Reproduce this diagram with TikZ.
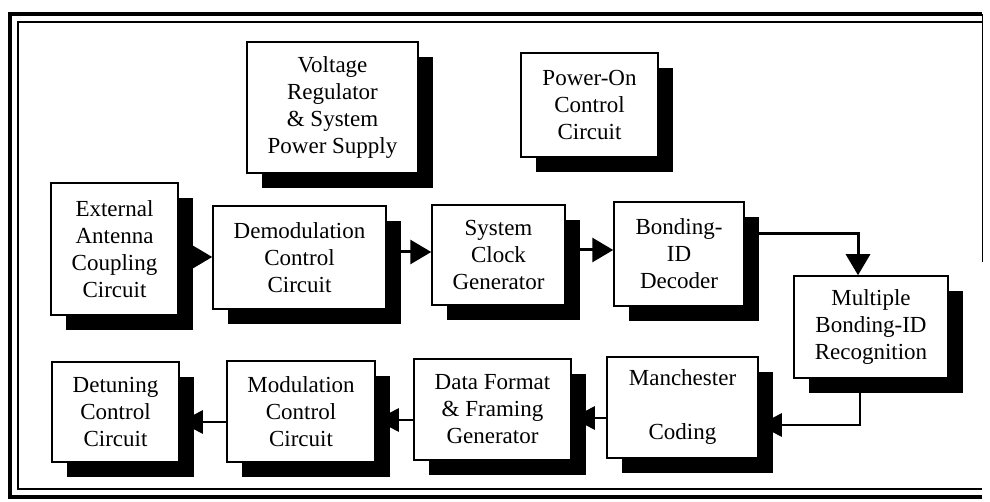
\documentclass[tikz,border=0pt]{standalone}
\usepackage{fontspec}
\setmainfont{Liberation Serif}
\usetikzlibrary{arrows.meta,shadows,backgrounds}
\tikzset{
  blk/.style={draw, line width=1.5pt, fill=white, align=center, inner sep=0pt,
    font=\fontsize{23}{27}\selectfont,
    drop shadow={shadow xshift=15pt, shadow yshift=-15pt, fill=black, opacity=1}},
  toparr/.style={line width=3pt, -{Triangle[length=21pt,width=24pt]}},
  botarr/.style={line width=2.5pt, -{Triangle[length=23pt,width=23pt]}},
  frameouter/.style={line width=4pt},
  frameinner/.style={line width=1.3pt}
}
\begin{document}
\begin{tikzpicture}[x=1pt,y=-1pt]
\useasboundingbox (0,0) rectangle (990,502);
% boxes
\node[blk, minimum width=171pt, minimum height=131pt] (volt) at (332.5,107.5) {Voltage\\Regulator\\\& System\\Power Supply};
\node[blk, minimum width=137pt, minimum height=104pt] (pwr) at (589.5,105) {Power-On\\Control\\Circuit};
\node[blk, minimum width=127pt, minimum height=132pt] (ext) at (114.5,249) {External\\Antenna\\Coupling\\Circuit};
\node[blk, minimum width=173pt, minimum height=103pt] (demod) at (299.5,257.5) {Demodulation\\Control\\Circuit};
\node[blk, minimum width=133pt, minimum height=100pt] (clock) at (498.5,255) {System\\Clock\\Generator};
\node[blk, minimum width=130pt, minimum height=104pt] (bond) at (679,254) {Bonding-\\ID\\Decoder};
\node[blk, minimum width=154pt, minimum height=102pt] (mult) at (871,327) {Multiple\\Bonding-ID\\Recognition};
\node[blk, minimum width=151pt, minimum height=101pt] (manch) at (682.5,407.5) {Manchester\\[27pt]Coding};
\node[blk, minimum width=157pt, minimum height=101pt] (data) at (492.5,409.5) {Data Format\\\& Framing\\Generator};
\node[blk, minimum width=148pt, minimum height=101pt] (modu) at (301,411.5) {Modulation\\Control\\Circuit};
\node[blk, minimum width=127pt, minimum height=100pt] (detun) at (115.5,412) {Detuning\\Control\\Circuit};
\begin{pgfonlayer}{background}
\fill[white] (0,0) rectangle (990,502);
% frame
\draw[frameouter] (982,14) -- (10,14) -- (10,497) -- (982,497);
\draw[line width=1pt] (982,14) -- (982,262);
\draw[frameinner] (982,22) -- (18,22) -- (18,489) -- (982,489);
% connectors
\draw[toparr] ([yshift=-8pt]ext.east) -- ([yshift=-8pt]ext.east -| demod.west);
\draw[toparr] ([yshift=5.5pt]demod.east) -- ([yshift=5.5pt]demod.east -| clock.west);
\draw[toparr] ([yshift=5pt]clock.east) -- ([yshift=5pt]clock.east -| bond.west);
\draw[toparr] ([yshift=20pt]bond.east) -| ([xshift=-13pt]mult.north);
\draw[botarr] ([xshift=-11pt]mult.south) |- ([yshift=-17.5pt]manch.east);
\draw[botarr] ([yshift=-10.5pt]manch.west) -- ([yshift=-10.5pt]manch.west -| data.east);
\draw[botarr] ([yshift=-10.5pt]data.west) -- ([yshift=-10.5pt]data.west -| modu.east);
\draw[botarr] ([yshift=-10.5pt]modu.west) -- ([yshift=-10.5pt]modu.west -| detun.east);
\end{pgfonlayer}
\end{tikzpicture}
\end{document}
